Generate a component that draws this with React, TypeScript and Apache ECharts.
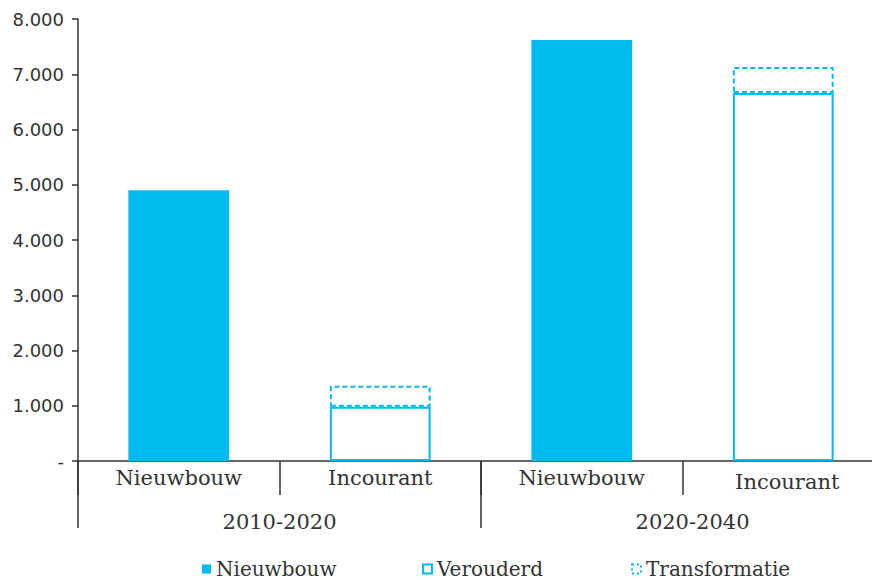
import React, { useEffect, useRef } from "react";
import * as echarts from "echarts";

const categories = ["Nieuwbouw", "Incourant", "Nieuwbouw", "Incourant"];
const periods = ["2010-2020", "2020-2040"];
const nieuwbouw = [4900, null, 7620, null];
const verouderd = [null, 980, null, 6660];
const transformatie = [null, 380, null, 470];
const yTicks = { min: 0, max: 8000, interval: 1000 };

const CYAN = "#00BAF0";
const AXIS = "#333333";
const TEXT = "#333333";
const SERIF = "'DejaVu Serif', serif";
const SANS = "'DejaVu Sans', sans-serif";

function fmt(v: number): string {
  if (v === 0) return "-";
  return String(v).replace(/\B(?=(\d{3})+(?!\d))/g, ".");
}

export default function App() {
  const ref = useRef<HTMLDivElement>(null);
  useEffect(() => {
    if (!ref.current) return;
    const chart = echarts.init(ref.current, undefined, { renderer: "svg" });
    const legendText = { fontFamily: SERIF, fontSize: 20, color: TEXT, lineHeight: 18 };
    const lg = { icon: "rect", itemWidth: 9, itemHeight: 9, itemGap: 0, padding: 0, textStyle: legendText, selectedMode: false, top: 559 };
    const lblBase = { fontFamily: SERIF, fontSize: 21, color: TEXT };
    chart.setOption({
      animation: false,
      backgroundColor: "#ffffff",
      grid: { left: 78, top: 19, height: 442, width: 806, outerBoundsMode: "none", containLabel: false },
      legend: [
        { ...lg, data: ["Nieuwbouw"], left: 202 },
        { ...lg, data: ["Verouderd"], left: 422 },
        {
          ...lg,
          data: [{ name: "Transformatie", itemStyle: { borderType: [2, 3], borderWidth: 2 } }],
          left: 631,
        },
      ],
      xAxis: [
        {
          type: "category",
          data: categories,
          position: "bottom",
          axisLine: { show: true, lineStyle: { color: AXIS, width: 1.5 } },
          axisTick: { show: true, interval: 0, length: 34, lineStyle: { color: AXIS, width: 1.5 } },
          axisLabel: {
            interval: 0,
            margin: 6,
            ...lblBase,
            formatter: (v: string, i: number) => (i === 3 ? `{s|${v}}` : `{n|${v}}`),
            rich: { n: { ...lblBase }, s: { ...lblBase, padding: [4, 0, 0, 8] } },
          },
        },
        {
          type: "category",
          data: periods,
          position: "bottom",
          offset: 0,
          axisLine: { show: false },
          axisTick: { show: true, interval: 0, length: 67, lineStyle: { color: AXIS, width: 1.5 } },
          axisLabel: {
            interval: 0,
            margin: 50,
            ...lblBase,
            formatter: (v: string, i: number) => (i === 1 ? `{s|${v}}` : `{n|${v}}`),
            rich: { n: { ...lblBase }, s: { ...lblBase, padding: [0, 0, 0, 20] } },
          },
        },
      ],
      yAxis: {
        type: "value",
        min: yTicks.min,
        max: yTicks.max,
        interval: yTicks.interval,
        splitLine: { show: false },
        axisLine: { show: true, lineStyle: { color: AXIS, width: 1.5 } },
        axisTick: { show: true, length: 6, lineStyle: { color: AXIS, width: 1.5 } },
        axisLabel: { margin: 14, fontFamily: SANS, fontSize: 18, color: TEXT, formatter: fmt },
      },
      series: [
        {
          name: "Nieuwbouw",
          type: "bar",
          stack: "s",
          barWidth: "50%",
          data: nieuwbouw,
          itemStyle: { color: CYAN },
        },
        {
          name: "Verouderd",
          type: "bar",
          stack: "s",
          barWidth: "50%",
          data: verouderd,
          itemStyle: { color: "#ffffff", borderColor: CYAN, borderWidth: 2 },
        },
        {
          name: "Transformatie",
          type: "bar",
          stack: "s",
          barWidth: "50%",
          data: transformatie,
          itemStyle: { color: "rgba(255,255,255,0)", borderColor: CYAN, borderWidth: 2, borderType: [5, 3] },
        },
      ],
    });
    return () => chart.dispose();
  }, []);
  return (
    <div
      ref={ref}
      style={{ position: "fixed", left: 0, top: 0, width: 872, height: 580, background: "#fff" }}
    />
  );
}
